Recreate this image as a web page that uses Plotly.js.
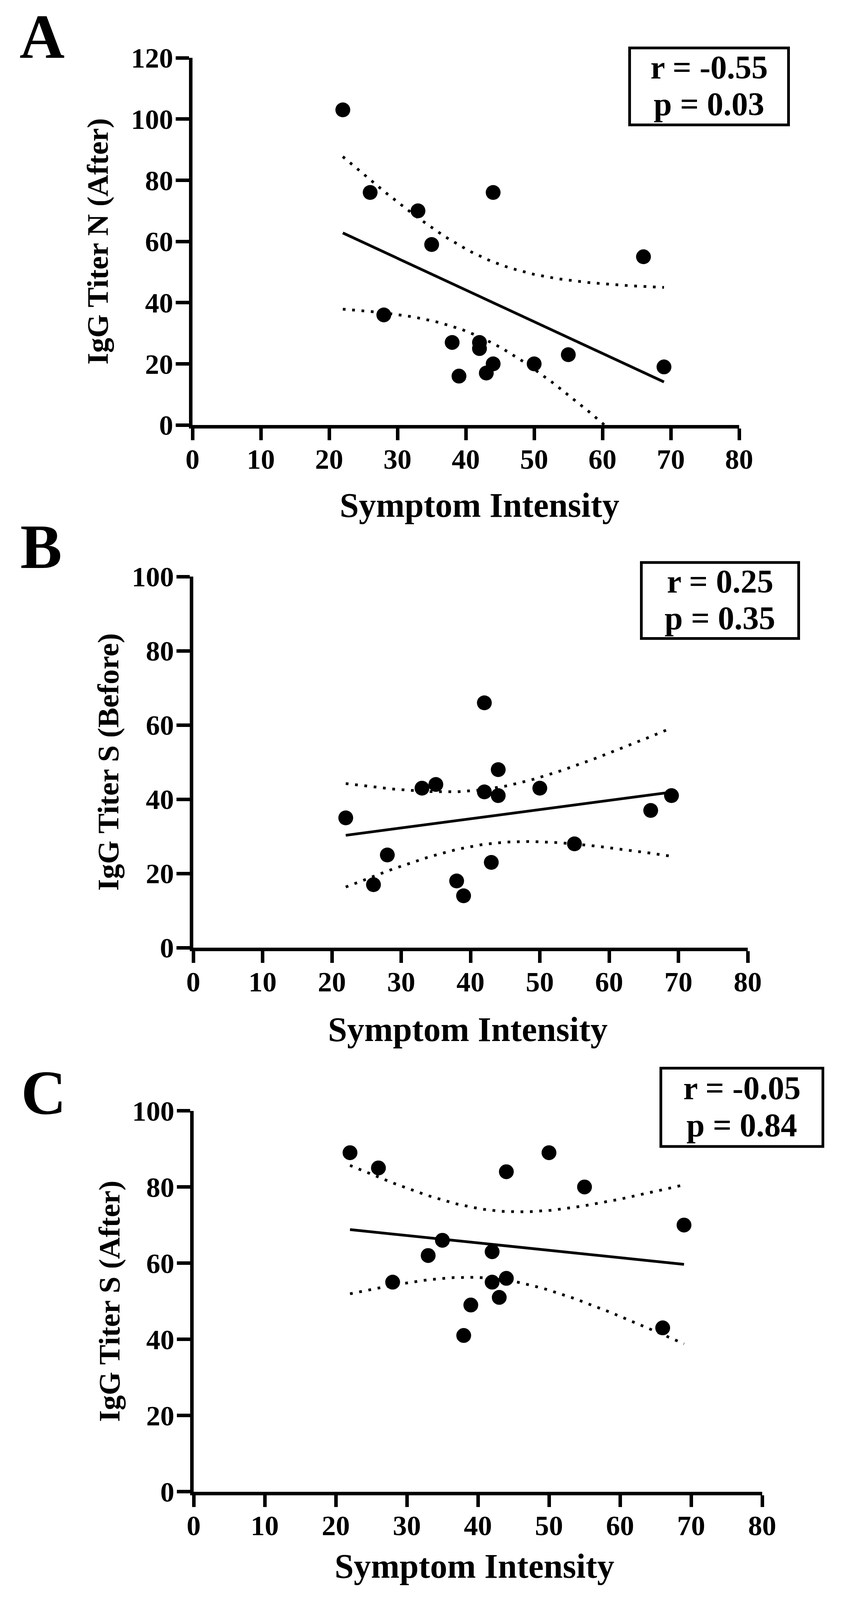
<!DOCTYPE html>
<html>
<head>
<meta charset="utf-8">
<script src="https://cdn.plot.ly/plotly-3.0.1.min.js"></script>
<style>
  html, body { margin: 0; padding: 0; background: #fff; overflow: hidden; }
  #chart { width: 2159px; }
</style>
</head>
<body>
<div id="chart"></div>
<script>
// same 16 subjects in every panel
const symptomIntensity = [22, 26, 28, 33, 35, 38, 39, 42, 42, 43, 44, 44, 50, 55, 66, 69];
const iggNAfter  = [103, 76, 36, 70, 59, 27, 16, 27, 25, 17, 76, 20, 20, 23, 55, 19];
const iggSBefore = [35, 17, 25, 43, 44, 18, 14, 66, 42, 23, 48, 41, 43, 28, 37, 41];
const iggSAfter  = [89, 85, 55, 62, 66, 41, 49, 63, 55, 51, 84, 56, 89, 80, 43, 70];

const panelLetters = ['A', 'B', 'C'];
const yTitles = ['IgG Titer N (After)', 'IgG Titer S (Before)', 'IgG Titer S (After)'];
const rLabels = ['r = -0.55', 'r = 0.25', 'r = -0.05'];
const pLabels = ['p = 0.03', 'p = 0.35', 'p = 0.84'];
const xTickVals = [0, 10, 20, 30, 40, 50, 60, 70, 80];
const yMaxes = [120, 100, 100];
const xTitle = 'Symptom Intensity';

const T_975_DF14 = 2.1448;   // t quantile for the 95% band, n - 2 = 14

// figure is laid out on a 2159 x 4592 sheet; the window can be shorter,
// so the sheet is squeezed vertically to fit (paper fractions stay the same)
const W = 2159, H = 4592;
const VIEW_H = Math.min(H, window.innerHeight || H);
const S = VIEW_H / H;
const px = v => v / W;
const py = v => 1 - v / H;
const FONT = 'Liberation Serif, Times New Roman, serif';

document.getElementById('chart').style.height = VIEW_H + 'px';

// positions on the sheet: plot = [left, top, right, bottom]
const frames = [
    { plot: [493, 166, 1893, 1220], box: [1609, 134, 2023, 362], letter: [48, 105], yTitleX: 250, xTitleXY: [1228, 1450] },
    { plot: [495, 1655, 1915, 2720], box: [1639, 1611, 2049, 1836], letter: [50, 1570], yTitleX: 277, xTitleXY: [1198, 2955] },
    { plot: [496, 3188, 1952, 4281], box: [1689, 3062, 2111, 3294], letter: [52, 3136], yTitleX: 280, xTitleXY: [1215, 4495] }
];

function linearFit(xs, ys) {
    const n = xs.length;
    const mx = xs.reduce((a, b) => a + b, 0) / n;
    const my = ys.reduce((a, b) => a + b, 0) / n;
    let sxx = 0, sxy = 0;
    for (let i = 0; i < n; i++) {
        sxx += (xs[i] - mx) ** 2;
        sxy += (xs[i] - mx) * (ys[i] - my);
    }
    const slope = sxy / sxx;
    const icpt = my - slope * mx;
    let sse = 0;
    for (let i = 0; i < n; i++) sse += (ys[i] - (icpt + slope * xs[i])) ** 2;
    return { n, mx, sxx, slope, icpt, s: Math.sqrt(sse / (n - 2)) };
}

// regression line + 95% confidence band of the fit
function fitTraces(xs, ys, ax) {
    const fit = linearFit(xs, ys);
    const lo = Math.min(...xs), hi = Math.max(...xs);
    const gx = [], up = [], dn = [];
    const steps = 80;
    for (let k = 0; k <= steps; k++) {
        const x = lo + (hi - lo) * k / steps;
        const yh = fit.icpt + fit.slope * x;
        const half = T_975_DF14 * fit.s * Math.sqrt(1 / fit.n + (x - fit.mx) ** 2 / fit.sxx);
        gx.push(x); up.push(yh + half); dn.push(yh - half);
    }
    const dotted = { color: '#000', width: 7, dash: '7px,17px' };
    return [
        { type: 'scatter', mode: 'lines', x: gx, y: up, line: dotted, xaxis: ax.x, yaxis: ax.y, hoverinfo: 'skip' },
        { type: 'scatter', mode: 'lines', x: gx, y: dn, line: dotted, xaxis: ax.x, yaxis: ax.y, hoverinfo: 'skip' },
        { type: 'scatter', mode: 'lines', x: [lo, hi], y: [fit.icpt + fit.slope * lo, fit.icpt + fit.slope * hi],
          line: { color: '#000', width: 7 }, xaxis: ax.x, yaxis: ax.y }
    ];
}

function axisStyle(extra) {
    return Object.assign({
        showline: true, linecolor: '#000', linewidth: 9,
        ticks: 'outside', tickwidth: 9, tickcolor: '#000',
        showgrid: false, zeroline: false, fixedrange: true,
        tickfont: { family: FONT, size: 72, color: '#000', weight: 700 }
    }, extra);
}

const seriesY = [iggNAfter, iggSBefore, iggSAfter];
const traces = [];
const layout = {
    width: W, height: VIEW_H,
    margin: { l: 0, r: 0, t: 0, b: 0 },
    paper_bgcolor: '#fff', plot_bgcolor: 'rgba(0,0,0,0)',
    showlegend: false,
    shapes: [], annotations: []
};

frames.forEach((f, i) => {
    const sfx = i === 0 ? '' : String(i + 1);
    const ax = { x: 'x' + sfx, y: 'y' + sfx };
    const [l, t, r, b] = f.plot;

    layout['xaxis' + sfx] = axisStyle({
        domain: [px(l), px(r)], anchor: ax.y,
        range: [0, 80], tickvals: xTickVals,
        ticklen: Math.round(34 * S), ticklabelstandoff: -14
    });
    layout['yaxis' + sfx] = axisStyle({
        domain: [py(b), py(t)], anchor: ax.x,
        range: [0, yMaxes[i]], tick0: 0, dtick: 20,
        ticklen: 34, ticklabelstandoff: -8
    });

    traces.push(...fitTraces(symptomIntensity, seriesY[i], ax));
    traces.push({
        type: 'scatter', mode: 'markers',
        x: symptomIntensity, y: seriesY[i],
        marker: { color: '#000', size: 38, line: { width: 0 } },
        xaxis: ax.x, yaxis: ax.y
    });

    // r / p box
    const [bl, bt, br, bb] = f.box;
    layout.shapes.push({
        type: 'rect', xref: 'paper', yref: 'paper',
        x0: px(bl + 3.5), x1: px(br - 3.5), y0: py(bb - 3.5), y1: py(bt + 3.5),
        line: { color: '#000', width: 7 }, fillcolor: 'rgba(0,0,0,0)'
    });
    const cx = (bl + br) / 2, cy = (bt + bb) / 2;
    const statFont = { family: FONT, size: 84, color: '#000', weight: 700 };
    layout.annotations.push(
        { xref: 'paper', yref: 'paper', x: px(cx), y: py(cy - 55), text: rLabels[i],
          showarrow: false, xanchor: 'center', yanchor: 'middle', borderpad: 0, font: statFont },
        { xref: 'paper', yref: 'paper', x: px(cx), y: py(cy + 51), text: pLabels[i],
          showarrow: false, xanchor: 'center', yanchor: 'middle', borderpad: 0, font: statFont }
    );

    // panel letter
    layout.annotations.push({
        xref: 'paper', yref: 'paper', x: px(f.letter[0]), y: py(f.letter[1]),
        text: panelLetters[i], showarrow: false, xanchor: 'left', yanchor: 'middle',
        font: { family: FONT, size: 160, color: '#000', weight: 700 }
    });

    // axis titles
    layout.annotations.push({
        xref: 'paper', yref: 'paper', x: px(f.yTitleX), y: py((t + b) / 2),
        text: yTitles[i], textangle: -90, showarrow: false,
        xanchor: 'center', yanchor: 'middle',
        font: { family: FONT, size: Math.round(86 * S), color: '#000', weight: 700 }
    });
    layout.annotations.push({
        xref: 'paper', yref: 'paper', x: px(f.xTitleXY[0]), y: py(f.xTitleXY[1]),
        text: xTitle, showarrow: false,
        xanchor: 'center', yanchor: 'middle',
        font: { family: FONT, size: 88, color: '#000', weight: 700 }
    });
});

Plotly.newPlot('chart', traces, layout, { staticPlot: true, responsive: false });
</script>
</body>
</html>
